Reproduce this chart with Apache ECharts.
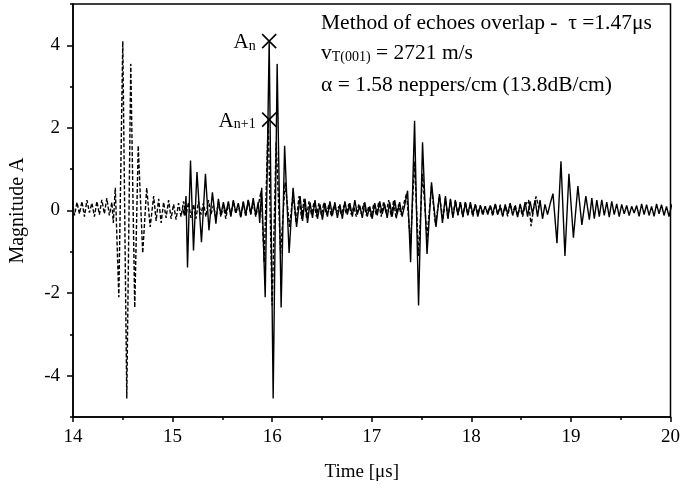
<!DOCTYPE html>
<html>
<head>
<meta charset="utf-8">
<script src="https://cdn.jsdelivr.net/npm/echarts@6/dist/echarts.min.js"></script>
<style>
  html, body { margin: 0; padding: 0; background: #fff; }
  #chart { width: 683px; height: 495px; }
</style>
</head>
<body>
<div id="chart"></div>
<script>
// echo delay, the dashed trace is the solid one moved back by tau
const tau = 1.47;

// solid trace [time in µs, amplitude]
const echo1 = [
  [15.10, 0.05], [15.12, -0.12], [15.135, 0.35], [15.15, -1.38], [15.18, 1.21], [15.21, -0.97],
  [15.245, 0.93], [15.29, -0.77], [15.33, 0.89], [15.365, -0.48], [15.40, 0.44], [15.435, -0.32]
];
const noiseA = [
  [15.46, 0.28], [15.485, -0.12], [15.51, 0.2], [15.535, -0.08], [15.56, 0.22], [15.585, -0.15],
  [15.61, 0.25], [15.635, -0.05], [15.66, 0.18], [15.685, -0.15], [15.71, 0.22], [15.735, -0.1],
  [15.76, 0.26], [15.785, -0.08], [15.81, 0.3], [15.835, -0.12], [15.86, 0.2], [15.875, -0.3]
];
const echo2 = [
  [15.895, 0.55], [15.93, -2.1], [15.97, 4.1], [16.01, -4.55], [16.05, 3.55], [16.09, -2.35],
  [16.125, 1.57], [16.17, -1.03], [16.21, 0.55], [16.245, -0.4]
];
const noiseB = [
  [16.28, 0.35], [16.305, -0.25], [16.33, 0.28], [16.355, -0.3], [16.38, 0.2], [16.405, -0.18],
  [16.43, 0.25], [16.455, -0.2], [16.48, 0.15], [16.505, -0.22], [16.53, 0.18], [16.555, -0.15],
  [16.58, 0.22], [16.605, -0.12], [16.63, 0.2], [16.655, -0.18], [16.68, 0.15], [16.705, -0.2],
  [16.73, 0.22], [16.755, -0.1], [16.78, 0.18], [16.805, -0.15], [16.83, 0.25], [16.855, -0.1],
  [16.88, 0.12], [16.905, -0.18], [16.93, 0.2], [16.955, -0.15], [16.98, 0.1], [17.005, -0.2],
  [17.03, 0.18], [17.055, -0.12], [17.08, 0.22], [17.105, -0.08], [17.13, 0.15], [17.155, -0.18],
  [17.18, 0.2], [17.205, -0.15], [17.23, 0.25], [17.255, -0.1], [17.28, 0.2], [17.305, -0.15],
  [17.33, 0.12]
];
const echo3 = [
  [17.36, 0.48], [17.39, -1.25], [17.43, 2.17], [17.47, -2.3], [17.51, 1.65], [17.555, -1.05],
  [17.60, 0.68], [17.645, -0.4], [17.68, 0.4], [17.71, -0.3], [17.74, 0.35], [17.765, -0.2]
];
const noiseC = [
  [17.79, 0.28], [17.815, -0.18], [17.84, 0.22], [17.865, -0.1], [17.89, 0.2], [17.915, -0.15],
  [17.94, 0.18], [17.965, -0.12], [17.99, 0.2], [18.015, -0.1], [18.04, 0.15], [18.065, -0.15],
  [18.09, 0.12], [18.115, -0.06], [18.14, 0.1], [18.165, -0.1], [18.19, 0.12], [18.215, -0.08],
  [18.24, 0.16], [18.265, -0.1], [18.29, 0.1], [18.315, -0.15], [18.34, 0.15], [18.365, -0.08],
  [18.39, 0.18], [18.415, -0.12], [18.44, 0.1], [18.465, -0.16], [18.49, 0.16], [18.515, -0.1],
  [18.54, 0.2], [18.565, -0.15], [18.59, 0.22], [18.615, -0.08], [18.64, 0.25], [18.665, -0.15],
  [18.69, 0.25], [18.715, -0.2], [18.74, 0.15], [18.765, -0.1]
];
const echo4 = [
  [18.79, 0.15], [18.82, 0.41], [18.86, -0.79], [18.90, 1.19], [18.94, -1.1], [18.98, 0.89],
  [19.025, -0.66], [19.07, 0.59], [19.11, -0.35], [19.15, 0.35], [19.185, -0.22]
];
const noiseD = [
  [19.21, 0.3], [19.235, -0.2], [19.26, 0.25], [19.285, -0.15], [19.31, 0.26], [19.335, -0.12],
  [19.36, 0.2], [19.385, -0.16], [19.41, 0.22], [19.435, -0.1], [19.46, 0.16], [19.485, -0.15],
  [19.51, 0.15], [19.535, -0.08], [19.56, 0.12], [19.585, -0.12], [19.61, 0.1], [19.635, -0.06],
  [19.66, 0.12], [19.685, -0.14], [19.71, 0.16], [19.735, -0.1], [19.76, 0.14], [19.785, -0.12],
  [19.81, 0.1], [19.835, -0.14], [19.86, 0.16], [19.885, -0.08], [19.91, 0.14], [19.935, -0.12],
  [19.96, 0.1], [19.985, -0.15], [20.01, 0.12], [20.045, 0.25], [20.07, -0.38], [20.095, 0.05],
  [20.12, 0.34], [20.15, 0.05]
];

// An and An+1 picked on the overlapped echoes
const markerPoints = [[15.97, 4.1], [15.97, 2.2]];
const markerNames = ['n', 'n+1'];

const xTicks = [14, 15, 16, 17, 18, 19, 20];
const yTicks = [-4, -2, 0, 2, 4];

const solid = [].concat(echo1, noiseA, echo2, noiseB, echo3, noiseC, echo4, noiseD);
const dashed = solid.map(p => [+(p[0] - tau).toFixed(3), p[1]]);

const font = '"Liberation Serif", "DejaVu Serif", serif';
const chart = echarts.init(document.getElementById('chart'), null, { renderer: 'canvas' });

const option = {
  backgroundColor: '#fff',
  animation: false,
  textStyle: { fontFamily: font, color: '#000' },
  grid: {
    left: 70, right: 11, top: 4, bottom: 78,
    show: true, borderColor: '#000', borderWidth: 1.5, backgroundColor: 'transparent'
  },
  xAxis: {
    type: 'value',
    min: xTicks[0],
    max: xTicks[xTicks.length - 1],
    interval: 1,
    name: 'Time [\u03bcs]',
    nameLocation: 'middle',
    nameGap: 46,
    nameTextStyle: { fontFamily: font, fontSize: 19, color: '#000', padding: [0, 20, 0, 0] },
    axisLine: { onZero: false, lineStyle: { color: '#000', width: 1.5 } },
    axisTick: { length: 5, lineStyle: { color: '#000', width: 1.5 } },
    minorTick: { show: true, splitNumber: 2, length: 3, lineStyle: { color: '#000', width: 1.5 } },
    splitLine: { show: false },
    axisLabel: { fontFamily: font, fontSize: 19, color: '#000', margin: 11 }
  },
  yAxis: [
    {
      type: 'value',
      min: -5, max: 5, interval: 1,
      name: 'Magnitude A',
      nameLocation: 'middle',
      nameGap: 45,
      nameTextStyle: { fontFamily: font, fontSize: 20, color: '#000' },
      axisLine: { onZero: false, lineStyle: { color: '#000', width: 1.5 } },
      axisTick: { customValues: yTicks, length: 6, lineStyle: { color: '#000', width: 1.5 } },
      splitLine: { show: false },
      axisLabel: { customValues: yTicks, fontFamily: font, fontSize: 19, color: '#000', margin: 13 }
    },
    {
      // odd values carry the short ticks
      type: 'value',
      position: 'left',
      min: -5, max: 5, interval: 1,
      axisLine: { show: false, onZero: false },
      axisTick: { length: 3, lineStyle: { color: '#000', width: 1.5 } },
      axisLabel: { show: false },
      splitLine: { show: false }
    }
  ],
  graphic: [
    {
      type: 'text', left: 321, top: 12,
      style: { text: 'Method of echoes overlap -  \u03c4 =1.47\u03bcs', font: '21.5px ' + font, fill: '#000' }
    },
    {
      type: 'text', left: 321, top: 42,
      style: {
        text: '{a|v}{s|T(001)}{a| = 2721 m/s}',
        fill: '#000',
        rich: {
          a: { fontFamily: font, fontSize: 21.5, color: '#000', verticalAlign: 'bottom', lineHeight: 24 },
          s: { fontFamily: font, fontSize: 14, color: '#000', verticalAlign: 'bottom', lineHeight: 22 }
        }
      }
    },
    {
      type: 'text', left: 321, top: 74,
      style: { text: '\u03b1 = 1.58 neppers/cm (13.8dB/cm)', font: '21.5px ' + font, fill: '#000' }
    }
  ],
  series: [
    {
      type: 'line',
      data: dashed,
      showSymbol: false,
      clip: true,
      lineStyle: { color: '#000', width: 1.4, type: [4, 2] },
      z: 2
    },
    {
      type: 'line',
      data: solid,
      showSymbol: false,
      clip: true,
      lineStyle: { color: '#000', width: 1.4 },
      z: 3
    },
    {
      type: 'scatter',
      data: markerPoints.map((p, i) => ({ value: p, name: markerNames[i] })),
      symbol: 'path://M0,0L10,10M10,0L0,10',
      symbolSize: 14,
      itemStyle: { color: 'none', borderColor: '#000', borderWidth: 1.6, opacity: 1 },
      label: {
        show: true,
        position: 'left',
        distance: 4,
        color: '#000',
        opacity: 1,
        formatter: p => '{a|A}{s|' + p.name + '}',
        rich: {
          a: { fontFamily: font, fontSize: 21, color: '#000', verticalAlign: 'bottom', lineHeight: 24 },
          s: { fontFamily: font, fontSize: 14, color: '#000', verticalAlign: 'bottom', lineHeight: 22 }
        }
      },
      z: 5
    }
  ]
};

chart.setOption(option);
</script>
</body>
</html>
